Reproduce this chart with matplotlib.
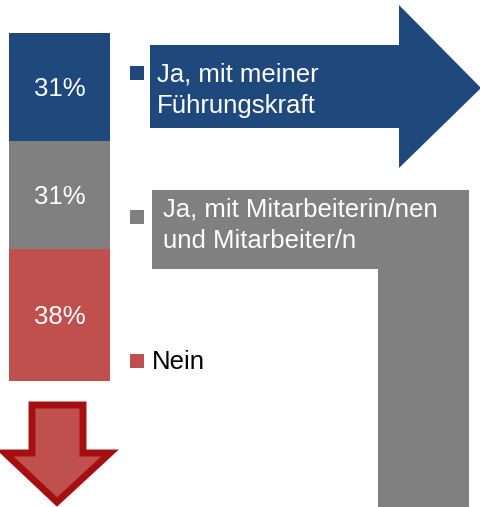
import matplotlib
matplotlib.use('Agg')
import numpy as np
import matplotlib.pyplot as plt
from matplotlib.patches import Polygon, Rectangle

plt.rcParams['font.family'] = ['Liberation Sans', 'DejaVu Sans']

# data
categories = ['Ja, mit meiner\nFührungskraft',
              'Ja, mit Mitarbeiterin/nen\nund Mitarbeiter/n',
              'Nein']
values = [31, 31, 38]
colors = ['#1F497D', '#808080', '#C0504D']
text_colors = ['white', 'white', 'black']

W, H = 481, 507
fig = plt.figure(figsize=(W / 100, H / 100), dpi=100)

# background axes in pixel units (y down)
ax = fig.add_axes([0, 0, 1, 1])
ax.set_xlim(0, W)
ax.set_ylim(H, 0)
ax.axis('off')

# blue arrow to the right
blue_arrow = [(150, 45), (399, 45), (399, 5), (481, 88), (399, 168), (399, 128), (150, 128)]
ax.add_patch(Polygon(blue_arrow, closed=True, fc=colors[0], ec='none'))

# grey L-shape
grey_l = [(152, 190), (469, 190), (469, 507), (378, 507), (378, 269), (152, 269)]
ax.add_patch(Polygon(grey_l, closed=True, fc=colors[1], ec='none'))

# red arrow down
red_arrow = [(32, 405), (83, 405), (83, 453), (110, 453), (57, 502), (5, 453), (32, 453)]
ax.add_patch(Polygon(red_arrow, closed=True, fc=colors[2], ec='#A50F0F', lw=5, joinstyle='miter'))

# legend markers and texts (y = baseline of last line)
marker_y = [73, 217, 361]
text_pos = [(157, 113), (163, 248), (152, 369)]
for i, cat in enumerate(categories):
    ax.add_patch(Rectangle((130, marker_y[i] - 7), 14, 14, fc=colors[i], ec='none'))
    ax.text(text_pos[i][0], text_pos[i][1], cat, color=text_colors[i], fontsize=18.5,
            ha='left', va='baseline', linespacing=1.4)

# stacked bar
bx = fig.add_axes([9 / W, 1 - 381 / H, 101 / W, 348 / H])
bx.set_xlim(-0.5, 0.5)
bx.set_ylim(100, 0)
bx.axis('off')
bottoms = np.concatenate([[0], np.cumsum(values)[:-1]])
bx.bar(0, values, bottom=bottoms, width=1, color=colors, edgecolor='none')
for v, b in zip(values, bottoms):
    bx.text(0, b + v / 2 + 2.7, f'{v}%', color='white', fontsize=18.5, ha='center', va='baseline')

fig.savefig('out.png', dpi=100)
